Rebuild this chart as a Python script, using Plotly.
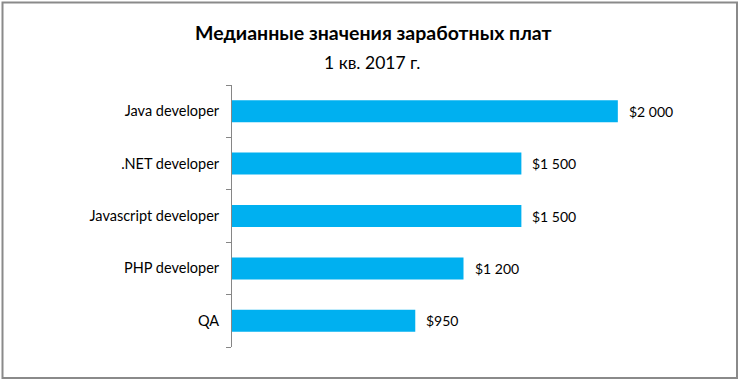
import plotly.graph_objects as go

categories = ["Java developer", ".NET developer", "Javascript developer", "PHP developer", "QA"]
values = [2000, 1500, 1500, 1200, 950]
value_labels = ["$2 000", "$1 500", "$1 500", "$1 200", "$950"]

title_text = "Медианные значения заработных плат"
subtitle_text = "1 кв. 2017 г."

W, H = 741, 382
L, R, T, B = 232, 46, 85, 35
pw = W - L - R
ph = H - T - B
FONT = "Lato, Noto Sans, sans-serif"

fig = go.Figure()
fig.add_trace(go.Bar(
    x=values, y=categories, orientation="h",
    marker=dict(color="#00B0F0", line=dict(width=0)),
    width=0.42, hoverinfo="skip",
))

for v, c, lab in zip(values, categories, value_labels):
    fig.add_annotation(x=v, y=c, text=lab, showarrow=False, xanchor="left",
                       xshift=9, font=dict(family=FONT, size=14, color="#000"))

def px_x(p):
    return (p - L) / pw

def px_y(p):
    return (H - B - p) / ph

fig.add_shape(type="rect", xref="paper", yref="paper",
              x0=px_x(2.5), x1=px_x(737), y0=px_y(378), y1=px_y(2.5),
              line=dict(color="#8a8a8a", width=2), layer="below")

fig.add_annotation(xref="paper", yref="paper", x=px_x(373), y=px_y(33),
                   text="<b>" + title_text + "</b>", showarrow=False,
                   xanchor="center", yanchor="middle",
                   font=dict(family=FONT, size=19.5, color="#000"))
fig.add_annotation(xref="paper", yref="paper", x=px_x(372), y=px_y(63),
                   text=subtitle_text, showarrow=False,
                   xanchor="center", yanchor="middle",
                   font=dict(family=FONT, size=17.5, color="#000"))

fig.update_layout(
    width=W, height=H,
    margin=dict(l=L, r=R, t=T, b=B),
    paper_bgcolor="white", plot_bgcolor="white",
    showlegend=False,
    xaxis=dict(range=[0, 2400], visible=False, fixedrange=True),
    yaxis=dict(
        type="category", categoryorder="array", categoryarray=categories[::-1],
        autorange=True,
        showline=True, linecolor="#868686", linewidth=1,
        ticks="outside", tickson="boundaries", ticklen=5, tickcolor="#868686",
        showgrid=False, zeroline=False,
        ticklabelstandoff=9,
        tickfont=dict(family=FONT, size=14.5, color="#000"),
        fixedrange=True,
    ),
)

fig.write_html("out.html", config={"displayModeBar": False},
               post_script="document.body.style.margin='0';document.body.style.overflow='hidden';")
